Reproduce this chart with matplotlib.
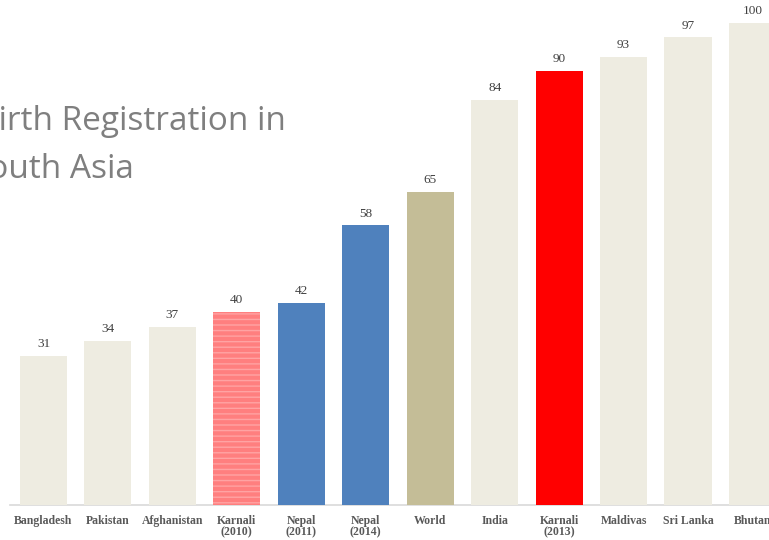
import matplotlib
matplotlib.use('Agg')
import matplotlib.pyplot as plt
import numpy as np

countries = ['Bangladesh', 'Pakistan', 'Afghanistan', 'Karnali\n(2010)', 'Nepal\n(2011)',
             'Nepal\n(2014)', 'World', 'India', 'Karnali\n(2013)', 'Maldivas', 'Sri Lanka', 'Bhutan']
values = [31, 34, 37, 40, 42, 58, 65, 84, 90, 93, 97, 100]
colors = ['#eeece1', '#eeece1', '#eeece1', '#ff7f7f', '#4f81bd', '#4f81bd',
          '#c4bd97', '#eeece1', '#ff0000', '#eeece1', '#eeece1', '#eeece1']

W, H = 769, 540
fig = plt.figure(figsize=(W / 100, H / 100), dpi=100)
base = 505  # baseline pixel row
ax = fig.add_axes([0, (H - base) / H, 1, base / H])

x = np.arange(len(values))
bars = ax.bar(x, values, width=0.73, color=colors, edgecolor='none', zorder=2)
# striped Karnali (2010)
bars[3].set_hatch('---')
bars[3].set_edgecolor('#ffa3a3')
bars[3].set_linewidth(0)

pitch = 64.45
ax.set_xlim(-43.5 / pitch, (W - 43.5) / pitch)
ax.set_ylim(0, base / 4.82)
ax.axis('off')
ax.plot([10 / pitch - 43.5 / pitch, 20], [0, 0], color='#d9d9d9', lw=1.2, clip_on=False, zorder=1)

for xi, v in zip(x, values):
    ax.text(xi, v + 1.2, str(v), ha='center', va='bottom', fontsize=9.5,
            family='Liberation Serif', color='#404040', clip_on=False)

for xi, lab in zip(x, countries):
    ax.text(xi, -2.0, lab, ha='center', va='top', fontsize=8.5, fontweight='bold',
            family='Liberation Serif', color='#595959', linespacing=1.0, clip_on=False)

# title is partly off the left edge, as in the original
fig.text(286 / W, 1 - 130 / H, 'Birth Registration in', ha='right', va='baseline',
         fontsize=24, family='Open Sans', color='#7f7f7f')
fig.text(134 / W, 1 - 178 / H, 'South Asia', ha='right', va='baseline',
         fontsize=24, family='Open Sans', color='#7f7f7f')

fig.savefig('out.png', dpi=100)
